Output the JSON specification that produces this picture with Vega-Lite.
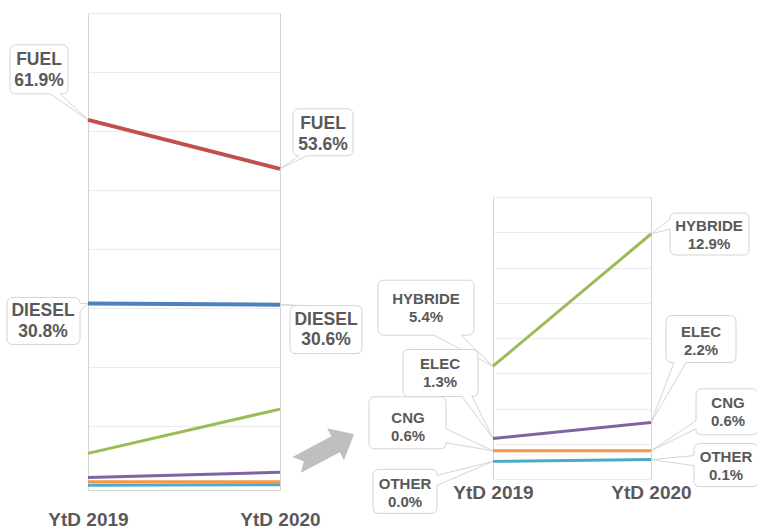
{
  "$schema": "https://vega.github.io/schema/vega-lite/v6.json",
  "background": "white",
  "padding": {"left": 4, "top": 12, "right": 0, "bottom": 0},
  "autosize": {"type": "pad"},
  "datasets": {
    "shares": [
      {"fuel": "FUEL", "year": "YtD 2019", "share": 0.619},
      {"fuel": "FUEL", "year": "YtD 2020", "share": 0.536},
      {"fuel": "DIESEL", "year": "YtD 2019", "share": 0.308},
      {"fuel": "DIESEL", "year": "YtD 2020", "share": 0.306},
      {"fuel": "HYBRIDE", "year": "YtD 2019", "share": 0.054},
      {"fuel": "HYBRIDE", "year": "YtD 2020", "share": 0.129},
      {"fuel": "ELEC", "year": "YtD 2019", "share": 0.013},
      {"fuel": "ELEC", "year": "YtD 2020", "share": 0.022},
      {"fuel": "CNG", "year": "YtD 2019", "share": 0.006},
      {"fuel": "CNG", "year": "YtD 2020", "share": 0.006},
      {"fuel": "OTHER", "year": "YtD 2019", "share": 0.000},
      {"fuel": "OTHER", "year": "YtD 2020", "share": 0.001}
    ]
  },
  "config": {
    "view": {"stroke": "#d4d4d4"},
    "text": {"font": "Liberation Sans", "fontWeight": "bold", "color": "#595959", "align": "center", "baseline": "middle", "fontSize": 15},
    "axis": {"labelFont": "Liberation Sans", "labelFontWeight": "bold", "labelColor": "#595959", "labelFontSize": 19, "gridColor": "#ebebeb", "gridWidth": 1}
  },
  "hconcat": [
    {
      "width": 192,
      "height": 477,
      "data": {"name": "shares"},
      "encoding": {
        "x": {"field": "year", "type": "ordinal", "scale": {"type": "point", "padding": 0},
              "axis": {"title": null, "ticks": false, "domain": false, "grid": false, "labelAngle": 0, "labelPadding": 20}},
        "y": {"field": "share", "type": "quantitative", "scale": {"domain": [-0.008, 0.8], "nice": false, "zero": false},
              "axis": {"title": null, "labels": false, "ticks": false, "domain": false, "grid": true, "values": [0, 0.1, 0.2, 0.3, 0.4, 0.5, 0.6, 0.7, 0.8]}}
      },
      "layer": [
        {
          "transform": [{"filter": "datum.fuel === 'FUEL' && datum.year === 'YtD 2019'"}],
          "layer": [
            {"mark": {"type": "point", "shape": "M-72,-75 L-26,-75 Q-20,-75 -20,-69 L-20,-32 Q-20,-26 -26,-26 L-28,-26 L0,0 L-38,-26 L-72,-26 Q-78,-26 -78,-32 L-78,-69 Q-78,-75 -72,-75 Z", "size": 4, "filled": true, "fill": "white", "stroke": "#d4d4d4", "strokeWidth": 1, "opacity": 1}},
            {"mark": {"type": "text", "dx": -49, "dy": -60, "fontSize": 17.5}, "encoding": {"text": {"field": "fuel"}}},
            {"mark": {"type": "text", "dx": -49, "dy": -39, "fontSize": 17.5}, "encoding": {"text": {"field": "share", "format": ".1%"}}}
          ]
        },
        {
          "transform": [{"filter": "datum.fuel === 'FUEL' && datum.year === 'YtD 2020'"}],
          "layer": [
            {"mark": {"type": "point", "shape": "M19,-60 L67,-60 Q73,-60 73,-54 L73,-19 Q73,-13 67,-13 L27,-13 L0,0 L19,-13 Q13,-13 13,-19 L13,-54 Q13,-60 19,-60 Z", "size": 4, "filled": true, "fill": "white", "stroke": "#d4d4d4", "strokeWidth": 1, "opacity": 1}},
            {"mark": {"type": "text", "dx": 43, "dy": -45, "fontSize": 17.5}, "encoding": {"text": {"field": "fuel"}}},
            {"mark": {"type": "text", "dx": 43, "dy": -24, "fontSize": 17.5}, "encoding": {"text": {"field": "share", "format": ".1%"}}}
          ]
        },
        {
          "transform": [{"filter": "datum.fuel === 'DIESEL' && datum.year === 'YtD 2019'"}],
          "layer": [
            {"mark": {"type": "point", "shape": "M-75,-6 L-14,-6 Q-8,-6 -8,0 L0,0 L-8,8 L-8,35 Q-8,41 -14,41 L-75,41 Q-81,41 -81,35 L-81,0 Q-81,-6 -75,-6 Z", "size": 4, "filled": true, "fill": "white", "stroke": "#d4d4d4", "strokeWidth": 1, "opacity": 1}},
            {"mark": {"type": "text", "dx": -45, "dy": 8, "fontSize": 17.5}, "encoding": {"text": {"field": "fuel"}}},
            {"mark": {"type": "text", "dx": -45, "dy": 29, "fontSize": 17.5}, "encoding": {"text": {"field": "share", "format": ".1%"}}}
          ]
        },
        {
          "transform": [{"filter": "datum.fuel === 'DIESEL' && datum.year === 'YtD 2020'"}],
          "layer": [
            {"mark": {"type": "point", "shape": "M16,1 L0,0 L26,1 L76,1 Q82,1 82,7 L82,43 Q82,49 76,49 L16,49 Q10,49 10,43 L10,7 Q10,1 16,1 Z", "size": 4, "filled": true, "fill": "white", "stroke": "#d4d4d4", "strokeWidth": 1, "opacity": 1}},
            {"mark": {"type": "text", "dx": 46, "dy": 15, "fontSize": 17.5}, "encoding": {"text": {"field": "fuel"}}},
            {"mark": {"type": "text", "dx": 46, "dy": 35, "fontSize": 17.5}, "encoding": {"text": {"field": "share", "format": ".1%"}}}
          ]
        },
        {
          "mark": {"type": "line"},
          "encoding": {
            "color": {"field": "fuel", "type": "nominal", "legend": null,
                      "scale": {"domain": ["FUEL", "DIESEL", "HYBRIDE", "ELEC", "CNG", "OTHER"],
                                "range": ["#C0504D", "#4F81BD", "#9BBB59", "#8064A2", "#F79646", "#4BACC6"]}},
            "strokeWidth": {"condition": {"test": "datum.fuel === 'FUEL' || datum.fuel === 'DIESEL'", "value": 4}, "value": 3}
          }
        },
        {
          "transform": [{"filter": "datum.fuel === 'OTHER' && datum.year === 'YtD 2020'"}],
          "mark": {"type": "point", "shape": "M12.5,7.1 L51.4,-13.6 L47.2,-21.5 L74.1,-15.5 L64,10.3 L59.8,2.3 L21,23 L23.8,11.3 Z", "size": 4, "filled": true, "fill": "#bfbfbf", "strokeWidth": 0, "opacity": 1},
          "encoding": {"y": {"datum": 0.06}}
        }
      ]
    },
    {
      "spacing": 0,
      "vconcat": [
        {
          "width": 10,
          "height": 183,
          "view": {"stroke": null},
          "data": {"values": []},
          "mark": {"type": "point"},
          "encoding": {}
        },
        {
          "width": 158,
          "height": 282,
          "data": {"name": "shares"},
          "transform": [{"filter": "datum.fuel !== 'FUEL' && datum.fuel !== 'DIESEL'"}],
          "encoding": {
            "x": {"field": "year", "type": "ordinal", "scale": {"type": "point", "padding": 0},
                  "axis": {"title": null, "ticks": false, "domain": false, "grid": false, "labelAngle": 0, "labelPadding": 4}},
            "y": {"field": "share", "type": "quantitative", "scale": {"domain": [-0.01, 0.15], "nice": false, "zero": false},
                  "axis": {"title": null, "labels": false, "ticks": false, "domain": false, "grid": true, "values": [-0.01, 0.01, 0.03, 0.05, 0.07, 0.09, 0.11, 0.13, 0.15]}}
          },
          "layer": [
            {
              "transform": [{"filter": "datum.fuel === 'HYBRIDE' && datum.year === 'YtD 2019'"}],
              "layer": [
                {"mark": {"type": "point", "shape": "M-109,-86 L-25,-86 Q-19,-86 -19,-80 L-19,-37 Q-19,-31 -25,-31 L-32,-31 L0,0 L-59,-31 L-109,-31 Q-115,-31 -115,-37 L-115,-80 Q-115,-86 -109,-86 Z", "size": 4, "filled": true, "fill": "white", "stroke": "#d4d4d4", "strokeWidth": 1, "opacity": 1}},
                {"mark": {"type": "text", "dx": -67, "dy": -67}, "encoding": {"text": {"field": "fuel"}}},
                {"mark": {"type": "text", "dx": -67, "dy": -49}, "encoding": {"text": {"field": "share", "format": ".1%"}}}
              ]
            },
            {
              "transform": [{"filter": "datum.fuel === 'ELEC' && datum.year === 'YtD 2019'"}],
              "layer": [
                {"mark": {"type": "point", "shape": "M-84,-89 L-21,-89 Q-15,-89 -15,-83 L-15,-48 Q-15,-42 -21,-42 L0,0 L-31,-42 L-84,-42 Q-90,-42 -90,-48 L-90,-83 Q-90,-89 -84,-89 Z", "size": 4, "filled": true, "fill": "white", "stroke": "#d4d4d4", "strokeWidth": 1, "opacity": 1}},
                {"mark": {"type": "text", "dx": -53, "dy": -74}, "encoding": {"text": {"field": "fuel"}}},
                {"mark": {"type": "text", "dx": -53, "dy": -56}, "encoding": {"text": {"field": "share", "format": ".1%"}}}
              ]
            },
            {
              "transform": [{"filter": "datum.fuel === 'CNG' && datum.year === 'YtD 2019'"}],
              "layer": [
                {"mark": {"type": "point", "shape": "M-118,-54 L-53,-54 Q-47,-54 -47,-48 L-47,-22 L0,0 L-47,-8 Q-47,-2 -53,-2 L-118,-2 Q-124,-2 -124,-8 L-124,-48 Q-124,-54 -118,-54 Z", "size": 4, "filled": true, "fill": "white", "stroke": "#d4d4d4", "strokeWidth": 1, "opacity": 1}},
                {"mark": {"type": "text", "dx": -85, "dy": -33}, "encoding": {"text": {"field": "fuel"}}},
                {"mark": {"type": "text", "dx": -85, "dy": -15}, "encoding": {"text": {"field": "share", "format": ".1%"}}}
              ]
            },
            {
              "transform": [{"filter": "datum.fuel === 'OTHER' && datum.year === 'YtD 2019'"}],
              "layer": [
                {"mark": {"type": "point", "shape": "M-114,8 L-62,8 Q-56,8 -56,14 L0,0 L-56,24 L-56,46 Q-56,52 -62,52 L-114,52 Q-120,52 -120,46 L-120,14 Q-120,8 -114,8 Z", "size": 4, "filled": true, "fill": "white", "stroke": "#d4d4d4", "strokeWidth": 1, "opacity": 1}},
                {"mark": {"type": "text", "dx": -88, "dy": 23}, "encoding": {"text": {"field": "fuel"}}},
                {"mark": {"type": "text", "dx": -88, "dy": 41}, "encoding": {"text": {"field": "share", "format": ".1%"}}}
              ]
            },
            {
              "transform": [{"filter": "datum.fuel === 'HYBRIDE' && datum.year === 'YtD 2020'"}],
              "layer": [
                {"mark": {"type": "point", "shape": "M25,-21 L92,-21 Q98,-21 98,-15 L98,15 Q98,21 92,21 L25,21 Q19,21 19,15 L19,-5 L0,0 L19,-15 Q19,-21 25,-21 Z", "size": 4, "filled": true, "fill": "white", "stroke": "#d4d4d4", "strokeWidth": 1, "opacity": 1}},
                {"mark": {"type": "text", "dx": 58, "dy": -8}, "encoding": {"text": {"field": "fuel"}}},
                {"mark": {"type": "text", "dx": 58, "dy": 10}, "encoding": {"text": {"field": "share", "format": ".1%"}}}
              ]
            },
            {
              "transform": [{"filter": "datum.fuel === 'ELEC' && datum.year === 'YtD 2020'"}],
              "layer": [
                {"mark": {"type": "point", "shape": "M21,-107 L79,-107 Q85,-107 85,-101 L85,-66 Q85,-60 79,-60 L35,-60 L0,0 L23,-60 L21,-60 Q15,-60 15,-66 L15,-101 Q15,-107 21,-107 Z", "size": 4, "filled": true, "fill": "white", "stroke": "#d4d4d4", "strokeWidth": 1, "opacity": 1}},
                {"mark": {"type": "text", "dx": 50, "dy": -91}, "encoding": {"text": {"field": "fuel"}}},
                {"mark": {"type": "text", "dx": 50, "dy": -73}, "encoding": {"text": {"field": "share", "format": ".1%"}}}
              ]
            },
            {
              "transform": [{"filter": "datum.fuel === 'CNG' && datum.year === 'YtD 2020'"}],
              "layer": [
                {"mark": {"type": "point", "shape": "M51,-62 L101,-62 Q107,-62 107,-56 L107,-22 Q107,-16 101,-16 L51,-16 Q45,-16 45,-22 L0,0 L45,-30 L45,-56 Q45,-62 51,-62 Z", "size": 4, "filled": true, "fill": "white", "stroke": "#d4d4d4", "strokeWidth": 1, "opacity": 1}},
                {"mark": {"type": "text", "dx": 77, "dy": -48}, "encoding": {"text": {"field": "fuel"}}},
                {"mark": {"type": "text", "dx": 77, "dy": -30}, "encoding": {"text": {"field": "share", "format": ".1%"}}}
              ]
            },
            {
              "transform": [{"filter": "datum.fuel === 'OTHER' && datum.year === 'YtD 2020'"}],
              "layer": [
                {"mark": {"type": "point", "shape": "M49,-16 L101,-16 Q107,-16 107,-10 L107,21 Q107,27 101,27 L49,27 Q43,27 43,21 L43,6 L0,0 L43,-4 L43,-10 Q43,-16 49,-16 Z", "size": 4, "filled": true, "fill": "white", "stroke": "#d4d4d4", "strokeWidth": 1, "opacity": 1}},
                {"mark": {"type": "text", "dx": 75, "dy": -3}, "encoding": {"text": {"field": "fuel"}}},
                {"mark": {"type": "text", "dx": 75, "dy": 15}, "encoding": {"text": {"field": "share", "format": ".1%"}}}
              ]
            },
            {
              "mark": {"type": "line", "strokeWidth": 3},
              "encoding": {
                "color": {"field": "fuel", "type": "nominal", "legend": null,
                          "scale": {"domain": ["FUEL", "DIESEL", "HYBRIDE", "ELEC", "CNG", "OTHER"],
                                    "range": ["#C0504D", "#4F81BD", "#9BBB59", "#8064A2", "#F79646", "#4BACC6"]}}
              }
            }
          ]
        }
      ]
    }
  ],
  "spacing": 1
}
